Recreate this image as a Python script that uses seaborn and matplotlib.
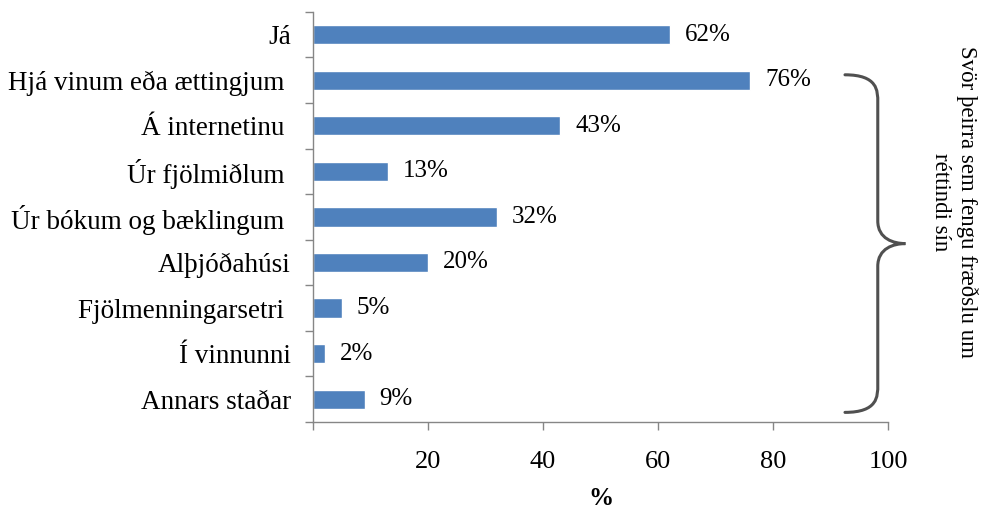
import numpy as np
import pandas as pd
import matplotlib.pyplot as plt
import seaborn as sns
from matplotlib.path import Path
from matplotlib.patches import PathPatch

# some labels in the original carry a trailing space
categories = ['Já', 'Hjá vinum eða ættingjum ', 'Á internetinu ', 'Úr fjölmiðlum ',
              'Úr bókum og bæklingum ', 'Alþjóðahúsi', 'Fjölmenningarsetri ',
              'Í vinnunni', 'Annars staðar']
values = [62, 76, 43, 13, 32, 20, 5, 2, 9]
x_ticks = [0, 20, 40, 60, 80, 100]
x_ticklabels = ['', '20', '40', '60', '80', '100']
side_note = 'Svör þeirra sem fengu fræðslu um\nréttindi sín'

df = pd.DataFrame({'cat': categories, 'val': values})

sns.set_style('white')
plt.rcParams['font.family'] = ['Liberation Serif', 'DejaVu Serif']
plt.rcParams['text.color'] = 'black'
plt.rcParams['xtick.color'] = '#868686'
plt.rcParams['ytick.color'] = '#868686'
plt.rcParams['xtick.labelcolor'] = 'black'
plt.rcParams['ytick.labelcolor'] = 'black'
plt.rcParams['axes.labelcolor'] = 'black'

fs = 18

fig = plt.figure(figsize=(9.89, 5.19), dpi=100)
ax = fig.add_axes([0.3165, 0.187, 0.5815, 0.79])

sns.barplot(data=df, x='val', y='cat', color='#4F81BD', width=0.42,
            saturation=1, ax=ax)

# value labels
for i, v in enumerate(values):
    ax.text(v + 2.6, i, f'{v}%', va='center', ha='left', fontsize=fs)

ax.set_xlim(0, 100)
ax.set_ylim(len(categories) - 0.5, -0.5)
ax.set_xticks(x_ticks)
ax.set_xticklabels(x_ticklabels, fontsize=19)
ax.tick_params(axis='x', bottom=True, direction='out', length=6, width=1, pad=15)

# y ticks at category boundaries
ax.set_yticks(np.arange(len(categories)))
ax.set_yticklabels(categories, fontsize=19.5)
ax.tick_params(axis='y', which='major', left=True, length=0, pad=16)
ax.set_yticks(np.arange(-0.5, len(categories), 1), minor=True)
ax.tick_params(axis='y', which='minor', left=True, direction='out', length=6, width=1)

for s in ['top', 'right']:
    ax.spines[s].set_visible(False)
for s in ['left', 'bottom']:
    ax.spines[s].set_color('#868686')
    ax.spines[s].set_linewidth(1)

ax.set_ylabel('')
ax.set_xlabel('%', fontsize=fs, fontweight='bold', labelpad=10)

# curly brace grouping the "how" answers
y0, y1 = 0.88, 8.29
ym = (y0 + y1) / 2
xa, xb, xt = 92.5, 98.2, 103
verts = [(xa, y0), (xb, y0), (xb, y0 + 0.35), (xb, y0 + 0.6),
         (xb, ym - 0.5),
         (xb, ym - 0.1), (xt - 2, ym), (xt, ym),
         (xt - 2, ym), (xb, ym + 0.1), (xb, ym + 0.5),
         (xb, y1 - 0.6),
         (xb, y1 - 0.35), (xb, y1), (xa, y1)]
codes = [Path.MOVETO, Path.CURVE4, Path.CURVE4, Path.CURVE4,
         Path.LINETO,
         Path.CURVE4, Path.CURVE4, Path.CURVE4,
         Path.CURVE4, Path.CURVE4, Path.CURVE4,
         Path.LINETO,
         Path.CURVE4, Path.CURVE4, Path.CURVE4]
brace = PathPatch(Path(verts, codes), facecolor='none', edgecolor='#505050',
                  lw=2.2, clip_on=False, capstyle='round')
ax.add_patch(brace)

fig.text(0.965, 0.61, side_note, rotation=270, ha='center', va='center',
         multialignment='center', fontsize=16.5, linespacing=1.3)

fig.savefig('out.png', dpi=100)
